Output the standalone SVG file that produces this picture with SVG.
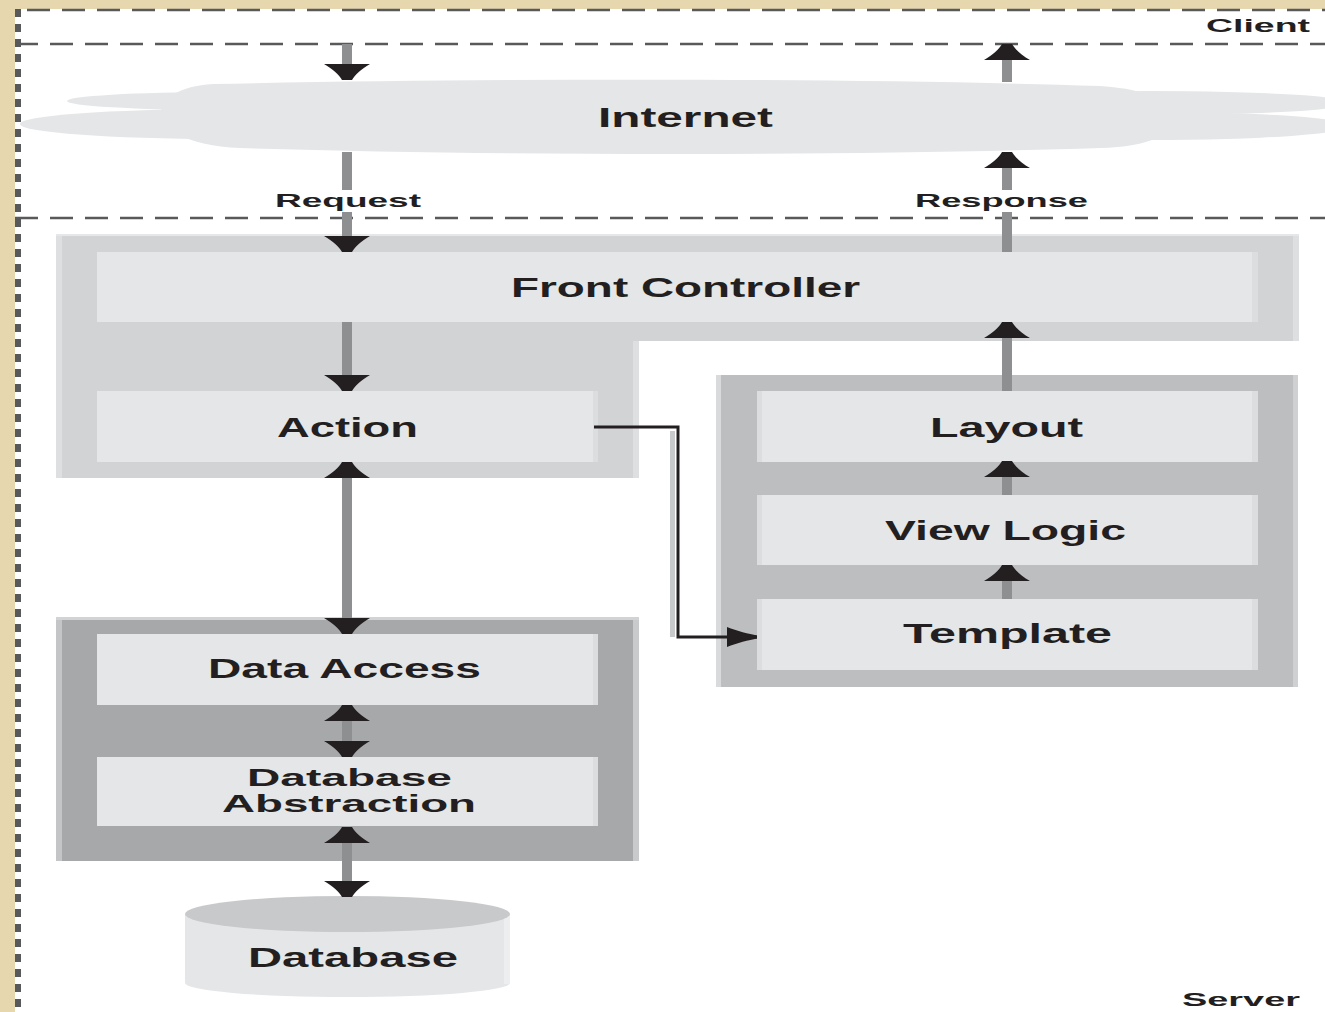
<svg xmlns="http://www.w3.org/2000/svg" width="1325" height="1012" viewBox="0 0 1325 1012">
<style>
.lbl{font-family:"Liberation Sans",Arial,sans-serif;font-weight:bold;fill:#231F20;}
.big{font-size:27px;}
.mid{font-size:23px;}
.sm{font-size:19px;}
.dash{stroke:#58595B;stroke-width:2.5;fill:none;stroke-dasharray:23 12;}
.inner{fill:#E5E6E8;}
.istrip{fill:#DCDDDF;}
.shaft{stroke:#8E8F91;stroke-width:10;fill:none;}
.cloud{fill:#E5E6E8;}
</style>
<defs>
<marker id="ah" viewBox="-17 -24 18 48" markerWidth="18" markerHeight="48" refX="0" refY="0" markerUnits="userSpaceOnUse" orient="auto-start-reverse">
<path d="M0,-5 C-5,-8 -11,-14 -16,-23 L-16,23 C-11,14 -5,8 0,5 Z" fill="#231F20"/>
</marker>
<marker id="ahs" viewBox="-31 -11 32 22" markerWidth="32" markerHeight="22" refX="0" refY="0" markerUnits="userSpaceOnUse" orient="auto">
<path d="M0,-1.5 C-8,-3 -20,-6 -30,-10 L-30,10 C-20,6 -8,3 0,1.5 Z" fill="#231F20"/>
</marker>
</defs>

<rect x="0" y="0" width="1325" height="1012" fill="#E6D7AE"/>
<rect x="15" y="9" width="1310" height="1003" fill="#FFFFFF"/>

<g id="borders">
<line x1="18" y1="9" x2="18" y2="1012" stroke="#58595B" stroke-width="6" stroke-dasharray="8 7"/>
<line class="dash" x1="27" y1="10" x2="1325" y2="10"/>
<line class="dash" x1="15" y1="44" x2="1325" y2="44"/>
<line class="dash" x1="15" y1="218" x2="1325" y2="218"/>
</g>

<g id="internet">
<ellipse class="cloud" cx="220" cy="101" rx="153" ry="9"/>
<ellipse class="cloud" cx="220" cy="124" rx="200" ry="15"/>
<ellipse class="cloud" cx="1150" cy="103" rx="200" ry="12"/>
<ellipse class="cloud" cx="1150" cy="126" rx="200" ry="14"/>
<path class="cloud" d="M213,84 C500,78 850,78 1100,86 C1200,92 1200,146 1100,148 C850,156 500,156 240,148 C140,144 140,88 213,84 Z"/>
<text class="lbl big" x="598" y="127" textLength="175" lengthAdjust="spacingAndGlyphs">Internet</text>
</g>

<g id="front-controller">
<path d="M56,234 H1299 V341 H639 V478 H56 Z" fill="#D2D3D5"/>
<rect x="56" y="234" width="6" height="244" fill="#DEDFE0"/>
<rect x="1293" y="234" width="6" height="107" fill="#DEDFE0"/>
<rect x="633" y="341" width="6" height="137" fill="#DEDFE0"/>
<rect x="56" y="234" width="1243" height="2" fill="#E6E7E8"/>
<rect class="istrip" x="97" y="252" width="1161" height="70"/>
<rect class="inner" x="97" y="252" width="1155" height="70"/>
<text class="lbl big" x="511" y="297" textLength="349" lengthAdjust="spacingAndGlyphs">Front Controller</text>
</g>

<g id="action">
<rect class="istrip" x="97" y="391" width="501" height="71"/>
<rect class="inner" x="97" y="391" width="496" height="71"/>
<text class="lbl big" x="277" y="437" textLength="141" lengthAdjust="spacingAndGlyphs">Action</text>
</g>

<g id="data-layer">
<rect x="56" y="617" width="583" height="244" fill="#A7A8AA"/>
<rect x="56" y="617" width="6" height="244" fill="#C4C5C7"/>
<rect x="633" y="617" width="6" height="244" fill="#C9CACC"/>
<rect x="56" y="617" width="583" height="3" fill="#D2D3D5"/>
</g>

<g id="data-access">
<rect class="istrip" x="97" y="634" width="501" height="71"/>
<rect class="inner" x="97" y="634" width="496" height="71"/>
<text class="lbl big" x="208" y="678" textLength="273" lengthAdjust="spacingAndGlyphs">Data Access</text>
</g>

<g id="database-abstraction">
<rect class="istrip" x="97" y="757" width="501" height="69"/>
<rect class="inner" x="97" y="757" width="496" height="69"/>
<text class="lbl mid" x="247" y="786" textLength="205" lengthAdjust="spacingAndGlyphs">Database</text>
<text class="lbl mid" x="222" y="812" textLength="254" lengthAdjust="spacingAndGlyphs">Abstraction</text>
</g>

<g id="database">
<path d="M185,914 V983 A162.5,14 0 0 0 510,983 V914 Z" fill="#E5E6E8"/>
<rect x="504" y="914" width="6" height="70" fill="#EDEEEF"/>
<ellipse cx="347.5" cy="914" rx="162.5" ry="18" fill="#C8C9CB"/>
<text class="lbl big" x="248" y="967" textLength="210" lengthAdjust="spacingAndGlyphs">Database</text>
</g>

<g id="view-layer">
<rect x="716" y="375" width="582" height="312" fill="#BDBEC0"/>
<rect x="716" y="375" width="5" height="312" fill="#D9DADB"/>
<rect x="1293" y="375" width="5" height="312" fill="#CFD0D2"/>
</g>

<g id="layout">
<rect class="istrip" x="757" y="391" width="501" height="71"/>
<rect class="inner" x="762" y="391" width="490" height="71"/>
<text class="lbl big" x="930" y="437" textLength="153" lengthAdjust="spacingAndGlyphs">Layout</text>
</g>

<g id="view-logic">
<rect class="istrip" x="757" y="495" width="501" height="70"/>
<rect class="inner" x="762" y="495" width="490" height="70"/>
<text class="lbl big" x="885" y="540" textLength="241" lengthAdjust="spacingAndGlyphs">View Logic</text>
</g>

<g id="template">
<rect class="istrip" x="757" y="599" width="501" height="71"/>
<rect class="inner" x="762" y="599" width="490" height="71"/>
<text class="lbl big" x="903" y="643" textLength="209" lengthAdjust="spacingAndGlyphs">Template</text>
</g>

<g id="connectors">
<path class="shaft" d="M347,44 V80" marker-end="url(#ah)"/>
<path class="shaft" d="M347,152 V190 M347,212 V252" marker-end="url(#ah)"/>
<path class="shaft" d="M347,322 V391" marker-end="url(#ah)"/>
<path class="shaft" d="M347,462 V634" marker-start="url(#ah)" marker-end="url(#ah)"/>
<path class="shaft" d="M347,705 V757" marker-start="url(#ah)" marker-end="url(#ah)"/>
<path class="shaft" d="M347,827 V897" marker-start="url(#ah)" marker-end="url(#ah)"/>
<path class="shaft" d="M1007,599 V565" marker-end="url(#ah)"/>
<path class="shaft" d="M1007,495 V461" marker-end="url(#ah)"/>
<path class="shaft" d="M1007,391 V322" marker-end="url(#ah)"/>
<path class="shaft" d="M1007,252 V212 M1007,190 V152" marker-end="url(#ah)"/>
<path class="shaft" d="M1007,82 V44" marker-end="url(#ah)"/>
<rect x="670" y="431" width="5" height="206" fill="#C8C9CB"/>
<path d="M594,427 H678 V637 H757" fill="none" stroke="#231F20" stroke-width="3" marker-end="url(#ahs)"/>
<text class="lbl sm" x="275" y="207" textLength="146" lengthAdjust="spacingAndGlyphs">Request</text>
<text class="lbl sm" x="915" y="207" textLength="173" lengthAdjust="spacingAndGlyphs">Response</text>
</g>

<g id="zones">
<text class="lbl sm" x="1206" y="32" textLength="104" lengthAdjust="spacingAndGlyphs">Client</text>
<text class="lbl sm" x="1182" y="1006" textLength="118" lengthAdjust="spacingAndGlyphs">Server</text>
</g>
</svg>
